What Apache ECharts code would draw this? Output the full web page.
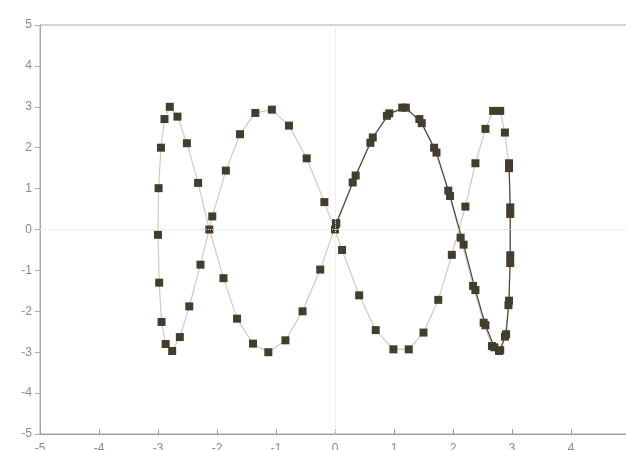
<!DOCTYPE html>
<html>
<head>
<meta charset="utf-8">
<script src="https://cdn.jsdelivr.net/npm/echarts@6/dist/echarts.min.js"></script>
<style>
  html, body { margin: 0; padding: 0; background: #fff; }
  #chart { width: 626px; height: 450px; }
</style>
</head>
<body>
<div id="chart"></div>
<script>
// First lap of the closed curve (path order)
const firstLapX = [
  0.00, 0.30, 0.60, 0.88, 1.14, 1.43, 1.68, 1.92, 2.13, 2.34,
  2.52, 2.66, 2.78, 2.88, 2.94, 2.97, 2.97, 2.95, 2.88, 2.80,
  2.68, 2.55, 2.38, 2.21, 1.98, 1.75, 1.50, 1.25, 0.99, 0.69,
  0.41, 0.12, -0.18, -0.48, -0.78, -1.07, -1.35, -1.61, -1.85, -2.08,
  -2.28, -2.47, -2.63, -2.76, -2.87, -2.94, -2.98, -3.00, -2.99, -2.95,
  -2.89, -2.80, -2.67, -2.51, -2.32, -2.13, -1.89, -1.66, -1.39, -1.13,
  -0.84, -0.55, -0.25, 0.02
];
const firstLapY = [
  0.00, 1.15, 2.12, 2.78, 2.98, 2.70, 2.00, 0.95, -0.20, -1.38,
  -2.28, -2.85, -2.97, -2.62, -1.85, -0.82, 0.38, 1.50, 2.37, 2.90,
  2.90, 2.46, 1.62, 0.56, -0.62, -1.72, -2.52, -2.93, -2.93, -2.46,
  -1.61, -0.50, 0.67, 1.74, 2.54, 2.93, 2.85, 2.33, 1.44, 0.32,
  -0.86, -1.88, -2.63, -2.97, -2.80, -2.26, -1.30, -0.13, 1.01, 2.00,
  2.70, 3.00, 2.76, 2.11, 1.14, 0.00, -1.19, -2.18, -2.79, -3.00,
  -2.71, -2.00, -0.98, 0.15
];
// Second lap, retracing the right-hand half
const secondLapX = [
  0.02, 0.35, 0.64, 0.92, 1.20, 1.47, 1.72, 1.95, 2.18, 2.38,
  2.55, 2.70, 2.80, 2.90, 2.95, 2.97, 2.97, 2.95
];
const secondLapY = [
  0.15, 1.32, 2.25, 2.84, 2.98, 2.60, 1.88, 0.82, -0.37, -1.48,
  -2.34, -2.88, -2.95, -2.56, -1.74, -0.63, 0.54, 1.62
];
const axisMin = -5;
const axisMax = 5;
const axisStep = 1;

const pairs = (xs, ys) => xs.map((x, i) => [x, ys[i]]);

const markerColor = '#433d2e';
const labelStyle = { color: '#8a8a8a', fontSize: 12, fontFamily: 'Liberation Sans, Arial, sans-serif' };

const chart = echarts.init(document.getElementById('chart'), null, { renderer: 'canvas' });
chart.setOption({
  animation: false,
  backgroundColor: '#fff',
  grid: {
    left: 40, top: 25, width: 590, height: 409,
    outerBoundsMode: 'none',
    containLabel: false,
    show: true, borderColor: '#a8a8a8', borderWidth: 1, backgroundColor: 'transparent'
  },
  xAxis: {
    type: 'value', min: axisMin, max: axisMax, interval: axisStep,
    axisLine: { show: true, onZero: false, lineStyle: { color: '#9a9a9a' } },
    axisTick: { show: true, inside: true, length: 5, lineStyle: { color: '#9a9a9a' } },
    axisLabel: Object.assign({ margin: 9 }, labelStyle),
    splitLine: { show: false }
  },
  yAxis: {
    type: 'value', min: axisMin, max: axisMax, interval: axisStep,
    axisLine: { show: true, onZero: false, lineStyle: { color: '#a8a8a8' } },
    axisTick: { show: true, length: 5, lineStyle: { color: '#a8a8a8' } },
    axisLabel: Object.assign({ margin: 8 }, labelStyle),
    splitLine: { show: false }
  },
  series: [
    {
      type: 'line',
      data: pairs(firstLapX, firstLapY),
      symbol: 'rect',
      symbolSize: 8,
      itemStyle: { color: markerColor },
      lineStyle: { color: '#cacaca', width: 1.2 },
      markLine: {
        silent: true,
        symbol: 'none',
        label: { show: false },
        lineStyle: { color: '#e2e2e2', type: 'dotted', width: 1 },
        data: [{ xAxis: 0 }, { yAxis: 0 }]
      },
      z: 2
    },
    {
      type: 'line',
      data: pairs(secondLapX, secondLapY),
      symbol: 'rect',
      symbolSize: 8,
      itemStyle: { color: markerColor },
      lineStyle: { color: '#4a4538', width: 1.2 },
      z: 3
    }
  ]
});
</script>
</body>
</html>
